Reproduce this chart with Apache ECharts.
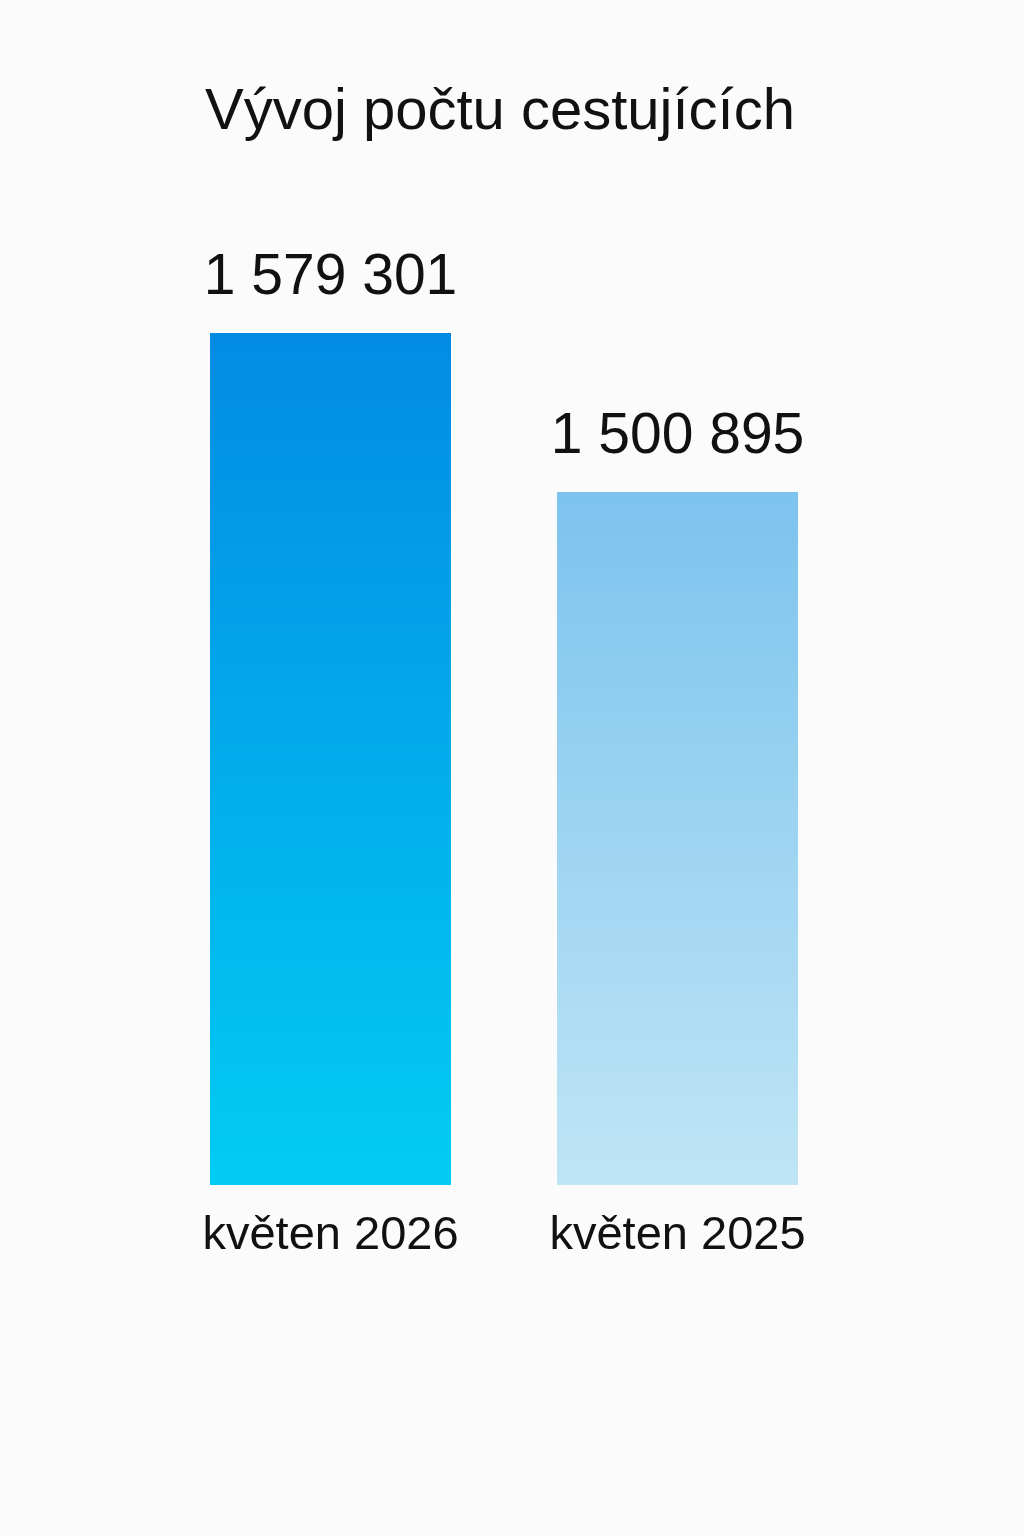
<!DOCTYPE html>
<html>
<head>
<meta charset="utf-8">
<script src="https://cdn.jsdelivr.net/npm/echarts@6/dist/echarts.min.js"></script>
<style>
html,body{margin:0;padding:0;background:#fbfbfb;}
#chart{width:1024px;height:1536px;}
</style>
</head>
<body>
<div id="chart"></div>
<script>
const titleText = "Vývoj počtu cestujících";
const categories = ["květen 2026", "květen 2025"];
const values = [1579301, 1500895];
const gradients = [["#038be3", "#02ccf4"], ["#7cc3ee", "#bfe5f5"]];

const fmt = v => String(v).replace(/\B(?=(\d{3})+(?!\d))/g, " ");

const chart = echarts.init(document.getElementById("chart"));
chart.setOption({
  backgroundColor: "#fbfbfb",
  animation: false,
  title: {
    text: titleText, left: 200, top: 79,
    textStyle: {fontFamily: "Liberation Sans", fontSize: 58, fontWeight: "normal", color: "#111"}
  },
  grid: {left: 157, right: 173, top: 333, bottom: 351},
  xAxis: {
    type: "category", data: categories,
    axisLine: {show: false}, axisTick: {show: false},
    axisLabel: {margin: 28, fontFamily: "Liberation Sans", fontSize: 47, color: "#111"}
  },
  yAxis: {
    type: "value", min: 1159000, max: 1579301, show: false,
    splitLine: {show: false}
  },
  series: [{
    type: "bar", barWidth: 241,
    data: values.map((v, i) => ({
      value: v,
      itemStyle: {color: new echarts.graphic.LinearGradient(0, 0, 0, 1, [
        {offset: 0, color: gradients[i][0]}, {offset: 1, color: gradients[i][1]}
      ])}
    })),
    label: {
      show: true, position: "top", distance: 26,
      formatter: p => fmt(p.value),
      fontFamily: "Liberation Sans", fontSize: 57, color: "#111"
    }
  }]
});
</script>
</body>
</html>
